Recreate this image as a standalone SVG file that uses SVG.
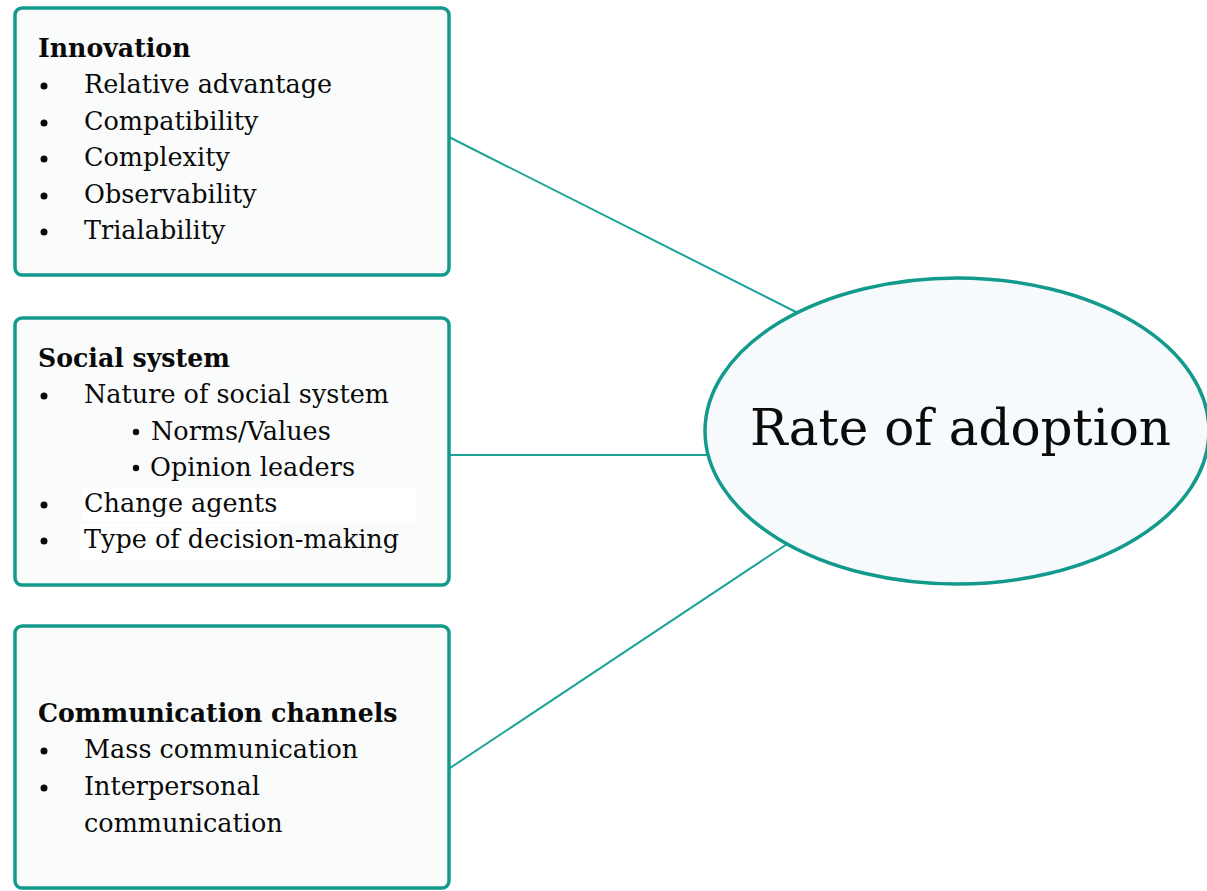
<svg xmlns="http://www.w3.org/2000/svg" width="1207" height="891" viewBox="0 0 1207 891">
  <style>
    .box { fill: #fafcfc; stroke: #129a8d; stroke-width: 3.5; }
    .ell { fill: #f6fafc; stroke: #129a8d; stroke-width: 3.5; }
    .link { stroke: #1aa396; stroke-width: 2; fill: none; }
    text { font-family: "DejaVu Serif", "Liberation Serif", serif; fill: #0a0a0a; }
    .h { font-size: 25.2px; font-weight: bold; }
    .t { font-size: 25.5px; }
    .big { font-size: 50px; }
    .dot { fill: #0a0a0a; }
  </style>
  <rect width="1207" height="891" fill="#ffffff"/>

  <!-- connectors from the factor boxes to the central ellipse -->
  <g id="connectors">
    <line class="link" x1="449" y1="137" x2="798" y2="313"/>
    <line class="link" x1="449" y1="455" x2="707" y2="455"/>
    <line class="link" x1="447" y1="770" x2="787" y2="544"/>
  </g>

  <g id="innovation">
    <rect class="box" x="15" y="8" width="434" height="267" rx="7"/>
    <text class="h" x="38" y="57">Innovation</text>
    <circle class="dot" cx="44" cy="86" r="3.5"/>
    <text class="t" x="84" y="93">Relative advantage</text>
    <circle class="dot" cx="44" cy="123" r="3.5"/>
    <text class="t" x="84" y="130">Compatibility</text>
    <circle class="dot" cx="44" cy="159" r="3.5"/>
    <text class="t" x="84" y="166">Complexity</text>
    <circle class="dot" cx="44" cy="196" r="3.5"/>
    <text class="t" x="84" y="203">Observability</text>
    <circle class="dot" cx="44" cy="232" r="3.5"/>
    <text class="t" x="84" y="239">Trialability</text>
  </g>

  <g id="social-system">
    <rect class="box" x="15" y="318" width="434" height="267" rx="7"/>
    <!-- white highlight behind the last two items -->
    <rect x="82" y="488" width="333" height="34" fill="#ffffff"/>
    <rect x="80" y="524" width="200" height="36" fill="#ffffff"/>
    <text class="h" x="38" y="367">Social system</text>
    <circle class="dot" cx="44" cy="396" r="3.5"/>
    <text class="t" x="84" y="403">Nature of social system</text>
    <circle class="dot" cx="136" cy="432" r="3.2"/>
    <text class="t" x="151" y="440">Norms/Values</text>
    <circle class="dot" cx="136" cy="468" r="3.2"/>
    <text class="t" x="150" y="476">Opinion leaders</text>
    <circle class="dot" cx="44" cy="505" r="3.5"/>
    <text class="t" x="84" y="512">Change agents</text>
    <circle class="dot" cx="44" cy="541" r="3.5"/>
    <text class="t" x="84" y="548">Type of decision-making</text>
  </g>

  <g id="communication-channels">
    <rect class="box" x="15" y="626" width="434" height="262" rx="7"/>
    <text class="h" x="38" y="722">Communication channels</text>
    <circle class="dot" cx="44" cy="751" r="3.5"/>
    <text class="t" x="84" y="758">Mass communication</text>
    <circle class="dot" cx="44" cy="788" r="3.5"/>
    <text class="t" x="84" y="795">Interpersonal</text>
    <text class="t" x="84" y="832">communication</text>
  </g>

  <g id="rate-of-adoption">
    <ellipse class="ell" cx="957" cy="431" rx="252" ry="153"/>
    <text class="big" x="750" y="445">Rate of adoption</text>
  </g>
</svg>
